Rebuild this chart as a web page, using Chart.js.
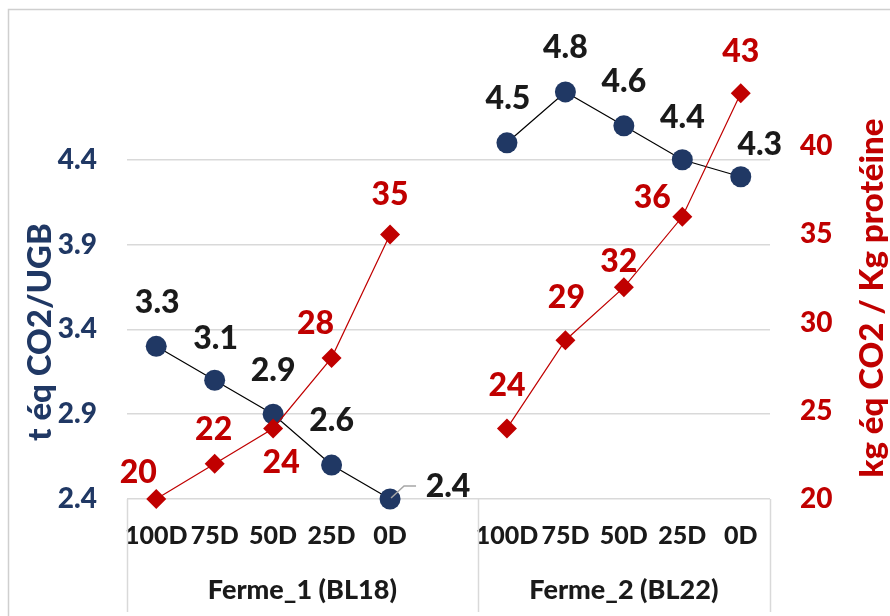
<!DOCTYPE html>
<html><head><meta charset="utf-8">
<script src="https://cdn.jsdelivr.net/npm/chart.js@4.4.1/dist/chart.umd.min.js"></script>
<style>html,body{margin:0;padding:0;background:#fff;}#wrap{width:890px;height:616px;position:relative;}</style>
</head><body>
<div id="wrap"><canvas id="c" width="890" height="616"></canvas></div>
<script>
// ---- data ----
const categories = ['100D','75D','50D','25D','0D','','100D','75D','50D','25D','0D'];
const groupNames = ['Ferme_1 (BL18)','Ferme_2 (BL22)'];
const groupSizes = [6,5];
const co2PerUGB = [3.3,3.1,2.9,2.6,2.4,null,4.5,4.8,4.6,4.4,4.3];
const co2PerProtein = [20,22,24,28,35,null,24,29,32,36,43];
const leftTicks = [2.4,2.9,3.4,3.9,4.4];
const rightTicks = [20,25,30,35,40];
const leftTitle = 't éq CO2/UGB';
const rightTitle = 'kg éq CO2 / Kg protéine';

// ---- style / layout ----
const NAVY = '#203864', RED = '#C00000', INK = '#1a1a1a', GRID = '#d9d9d9';
const FONT = 'Lato';
const W = '900';
const blueLabelOffsets = [[1,-44],[1,-42],[0,-44],[0,-44],[58,-12],null,[1,-44],[0,-44],[0,-44],[0,-42],[19,-32]];
const redLabelOffsets = [[-18,-26],[-1,-34],[8,34],[-16,-34],[0,-40],null,[0,-43],[1,-43],[-5,-26],[-30,-19],[0,-42]];

const deco = {
  id: 'deco',
  beforeDraw(chart) {
    const ctx = chart.ctx;
    ctx.save();
    ctx.fillStyle = '#fff';
    ctx.fillRect(0, 0, chart.width, chart.height);
    ctx.strokeStyle = '#cfcfcf';
    ctx.lineWidth = 1.5;
    ctx.beginPath();
    ctx.moveTo(8.5, chart.height + 5);
    ctx.lineTo(8.5, 9.5);
    ctx.lineTo(chart.width + 5, 9.5);
    ctx.stroke();
    ctx.restore();
  },
  afterDatasetsDraw(chart) {
    const ctx = chart.ctx;
    ctx.save();
    ctx.font = W + ' 32px ' + FONT;
    ctx.textAlign = 'center';
    ctx.textBaseline = 'middle';
    const mb = chart.getDatasetMeta(0);
    const mr = chart.getDatasetMeta(1);
    mb.data.forEach((p, i) => {
      const off = blueLabelOffsets[i];
      if (!off || co2PerUGB[i] == null) return;
      if (off[0] > 30) {
        ctx.strokeStyle = '#a6a6a6';
        ctx.lineWidth = 1.5;
        ctx.beginPath();
        ctx.moveTo(p.x + 1, p.y - 1);
        ctx.lineTo(p.x + 14, p.y - 13);
        ctx.lineTo(p.x + 26, p.y - 13);
        ctx.stroke();
      }
      ctx.fillStyle = INK;
      ctx.fillText(co2PerUGB[i].toString(), p.x + off[0], p.y + off[1]);
    });
    mr.data.forEach((p, i) => {
      const off = redLabelOffsets[i];
      if (!off || co2PerProtein[i] == null) return;
      ctx.fillStyle = RED;
      ctx.fillText(co2PerProtein[i].toString(), p.x + off[0], p.y + off[1]);
    });
    ctx.restore();
  },
  afterDraw(chart) {
    const ctx = chart.ctx;
    const xs = chart.scales.x;
    const ca = chart.chartArea;
    const bin = xs.getPixelForValue(1) - xs.getPixelForValue(0);
    ctx.save();
    ctx.strokeStyle = GRID;
    ctx.lineWidth = 1.5;
    let start = 0;
    const bounds = [xs.getPixelForValue(0) - bin / 2];
    groupSizes.forEach(n => { start += n; bounds.push(xs.getPixelForValue(start - 1) + bin / 2); });
    bounds.forEach(b => {
      ctx.beginPath();
      ctx.moveTo(Math.round(b) + 0.5, ca.bottom);
      ctx.lineTo(Math.round(b) + 0.5, 612);
      ctx.stroke();
    });
    ctx.font = W + ' 27px ' + FONT;
    ctx.fillStyle = INK;
    ctx.textAlign = 'center';
    ctx.textBaseline = 'middle';
    groupNames.forEach((g, i) => {
      ctx.fillText(g, (bounds[i] + bounds[i + 1]) / 2, 590);
    });
    ctx.font = W + ' 33px ' + FONT;
    ctx.fillStyle = NAVY;
    ctx.translate(40, 332);
    ctx.rotate(-Math.PI / 2);
    ctx.fillText(leftTitle, 0, 0);
    ctx.restore();
    ctx.save();
    ctx.font = W + ' 33px ' + FONT;
    ctx.fillStyle = RED;
    ctx.textAlign = 'center';
    ctx.textBaseline = 'middle';
    ctx.translate(872, 298);
    ctx.rotate(-Math.PI / 2);
    ctx.fillText(rightTitle, 0, 0);
    ctx.restore();
  }
};

new Chart(document.getElementById('c'), {
  type: 'line',
  data: {
    labels: categories,
    datasets: [
      {
        label: leftTitle,
        data: co2PerUGB,
        yAxisID: 'yL',
        borderColor: '#000',
        borderWidth: 1.2,
        pointStyle: 'circle',
        pointRadius: 10.5,
        pointHoverRadius: 10.5,
        pointBackgroundColor: NAVY,
        pointBorderColor: NAVY,
        pointBorderWidth: 0,
        spanGaps: false,
        clip: false,
        order: 2
      },
      {
        label: rightTitle,
        data: co2PerProtein,
        yAxisID: 'yR',
        borderColor: RED,
        borderWidth: 1.2,
        pointStyle: 'rectRot',
        pointRadius: 10,
        pointHoverRadius: 10,
        pointBackgroundColor: RED,
        pointBorderColor: RED,
        pointBorderWidth: 0,
        spanGaps: false,
        clip: false,
        order: 1
      }
    ]
  },
  options: {
    responsive: false,
    animation: false,
    devicePixelRatio: 1,
    layout: { padding: { top: 58, left: 0, right: 0, bottom: 0 } },
    plugins: { legend: { display: false }, tooltip: { enabled: false } },
    events: [],
    scales: {
      x: {
        type: 'category',
        offset: true,
        grid: { display: false, drawTicks: false },
        border: { display: false },
        ticks: {
          autoSkip: false, maxRotation: 0, minRotation: 0, padding: 22,
          color: INK, font: { family: FONT, size: 25, weight: W }
        },
        afterFit(s) { s.height = 117; }
      },
      yL: {
        position: 'left',
        min: 2.4, max: 5.0,
        grid: { color: GRID, lineWidth: 1.5, drawTicks: false },
        border: { display: false },
        ticks: {
          padding: 30, color: NAVY, font: { family: FONT, size: 28, weight: W },
          callback: v => Number(v).toFixed(1)
        },
        afterBuildTicks(s) { s.ticks = leftTicks.map(v => ({ value: v })); },
        afterFit(s) { s.width = 127; }
      },
      yR: {
        position: 'right',
        min: 20, max: 45,
        grid: { display: false, drawTicks: false },
        border: { display: false },
        ticks: {
          padding: 30, color: RED, font: { family: FONT, size: 28, weight: W }
        },
        afterBuildTicks(s) { s.ticks = rightTicks.map(v => ({ value: v })); },
        afterFit(s) { s.width = 120; }
      }
    }
  },
  plugins: [deco]
});
</script>
</body></html>
